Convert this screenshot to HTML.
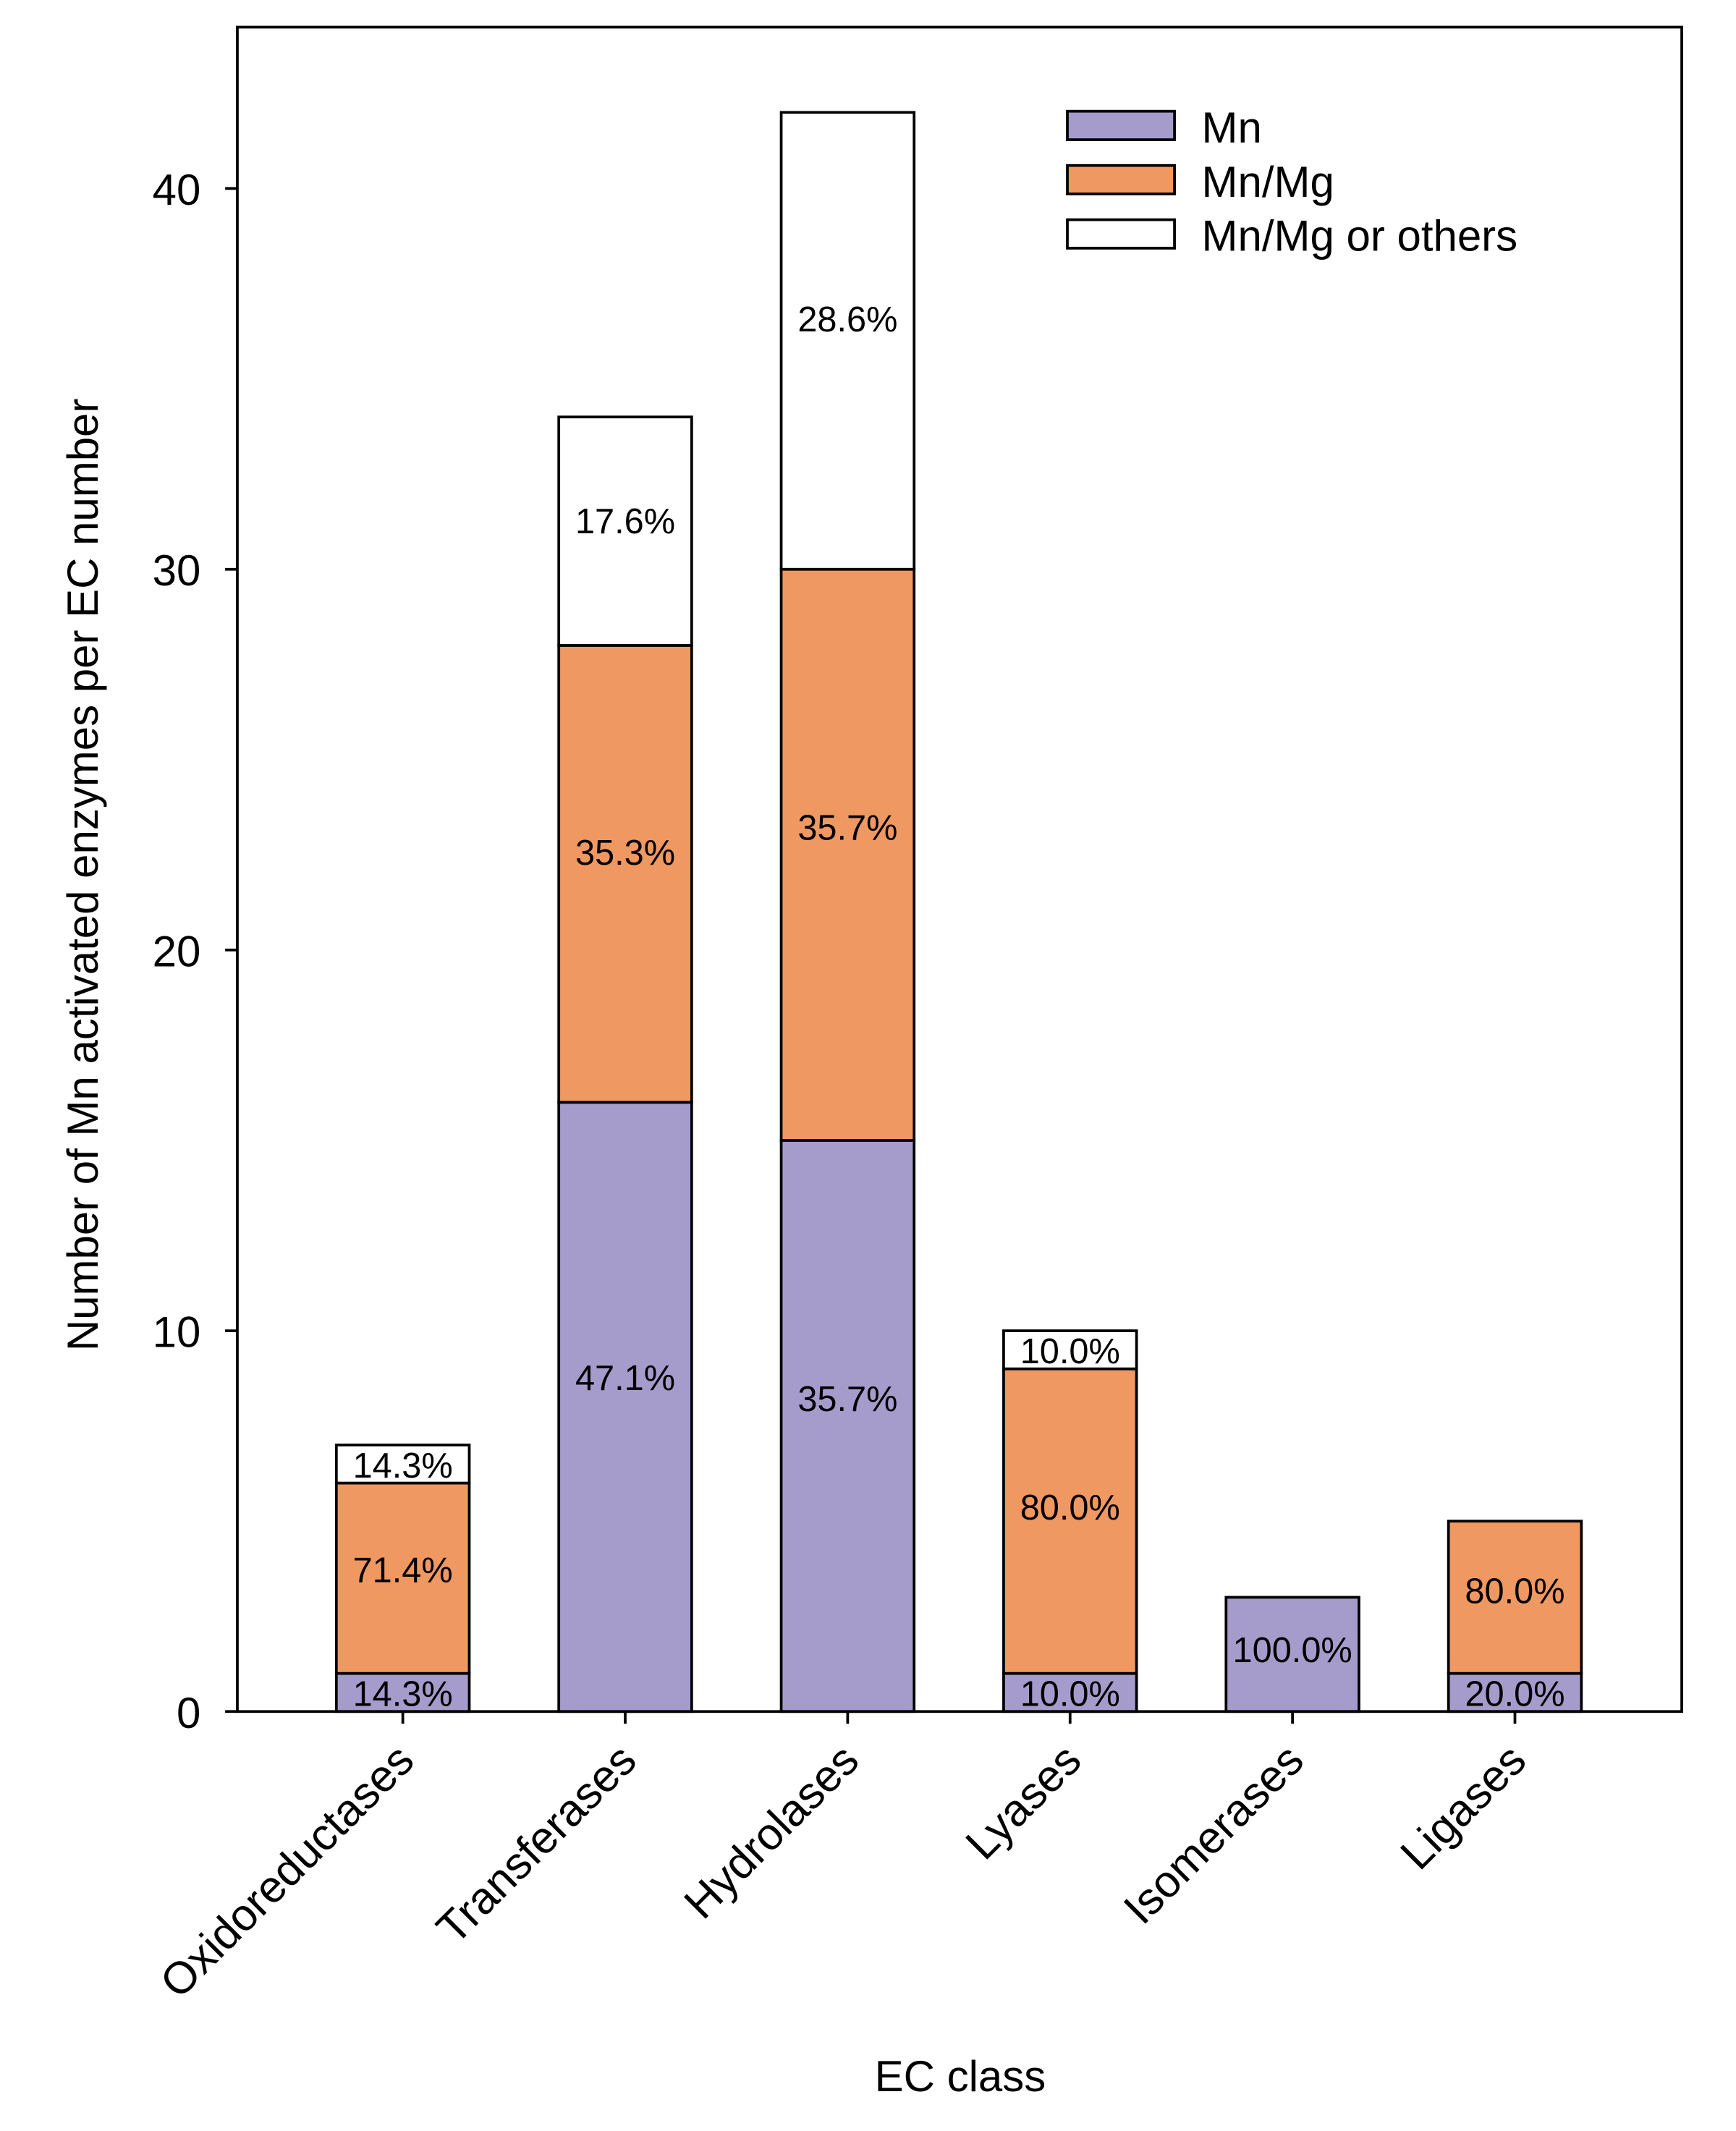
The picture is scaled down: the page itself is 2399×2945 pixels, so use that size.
<!DOCTYPE html>
<html><head><meta charset="utf-8"><style>html,body{margin:0;padding:0;background:#fff}svg{display:block}text{font-family:"Liberation Sans",Arial,sans-serif;fill:#000}</style></head>
<body>
<svg id="chart" width="2399" height="2945" viewBox="0 0 1280 1571.3" xmlns="http://www.w3.org/2000/svg">
<rect x="0" y="0" width="1280" height="1572" fill="#fff"/>
<g id="bars"></g>
<g id="axes"></g>
<g id="legend"></g>
</svg>
<script>
const categories = ["Oxidoreductases","Transferases","Hydrolases","Lyases","Isomerases","Ligases"];
const mnValues = [1,16,15,1,3,1];
const mnMgValues = [5,12,15,8,0,4];
const otherValues = [1,6,12,1,0,0];
const mnLabels = ["14.3%","47.1%","35.7%","10.0%","100.0%","20.0%"];
const mnMgLabels = ["71.4%","35.3%","35.7%","80.0%","",  "80.0%"];
const otherLabels = ["14.3%","17.6%","28.6%","10.0%","",""];
const yTicks = [0,10,20,30,40];
const seriesNames = ["Mn","Mn/Mg","Mn/Mg or others"];
const seriesColors = ["#a59ccb","#f09862","#ffffff"];

const NS="http://www.w3.org/2000/svg";
const L=175,R=1240,T=20,B=1262,yMax=(B-T)/28.075;
const y=v=>B-(v/yMax)*(B-T);
const x=i=>297+i*164;
const bw=98;
function mk(tag,attrs,parent,txt){const e=document.createElementNS(NS,tag);for(const k in attrs)e.setAttribute(k,attrs[k]);if(txt!==undefined)e.textContent=txt;parent.appendChild(e);return e;}
const bars=document.getElementById('bars'),axes=document.getElementById('axes'),leg=document.getElementById('legend');
const series=[mnValues,mnMgValues,otherValues],labels=[mnLabels,mnMgLabels,otherLabels];
categories.forEach((c,i)=>{
  let base=0;
  series.forEach((s,k)=>{
    const v=s[i]; if(v<=0) return;
    const r=mk('rect',{x:x(i)-bw/2,y:y(base+v),width:bw,height:y(base)-y(base+v),fill:seriesColors[k],stroke:'#000','stroke-width':2},bars);
    
    
    if(labels[k][i]){
      const mid = v>1.5 ? y(base+v*0.55) : (y(base)+y(base+v))/2;
      const t=mk('text',{x:x(i),y:mid+10,'font-size':26,'text-anchor':'middle'},bars,labels[k][i]);
      
      
    }
    base+=v;
  });
});
const frame=mk('rect',{x:L,y:T,width:R-L,height:B-T,fill:'none',stroke:'#000','stroke-width':2},axes);


yTicks.forEach(v=>{
  mk('line',{x1:L-9,x2:L,y1:y(v),y2:y(v),stroke:'#000','stroke-width':2},axes);
  const t=mk('text',{x:L-27,y:y(v)+12,'font-size':32,'text-anchor':'end'},axes,String(v));
  
  
});
categories.forEach((c,i)=>{
  mk('line',{x1:x(i),x2:x(i),y1:B,y2:B+9,stroke:'#000','stroke-width':2},axes);
  const t=mk('text',{x:x(i)+10,y:B+38,'font-size':33,'text-anchor':'end',transform:`rotate(-45 ${x(i)+10} ${B+38})`},axes,c);
  
  
});
const yt=mk('text',{x:72,y:645,'font-size':32,'text-anchor':'middle',transform:'rotate(-90 72 645)'},axes,'Number of Mn activated enzymes per EC number');


const xt=mk('text',{x:708,y:1542,'font-size':32,'text-anchor':'middle'},axes,'EC class');


seriesNames.forEach((n,k)=>{
  const g=mk('g',{},leg);
  
  
  mk('rect',{x:787,y:82+k*40,width:79,height:21,fill:seriesColors[k],stroke:'#000','stroke-width':2},g);
  mk('text',{x:886,y:105+k*40,'font-size':32},g,n);
});
</script>
</body></html>
